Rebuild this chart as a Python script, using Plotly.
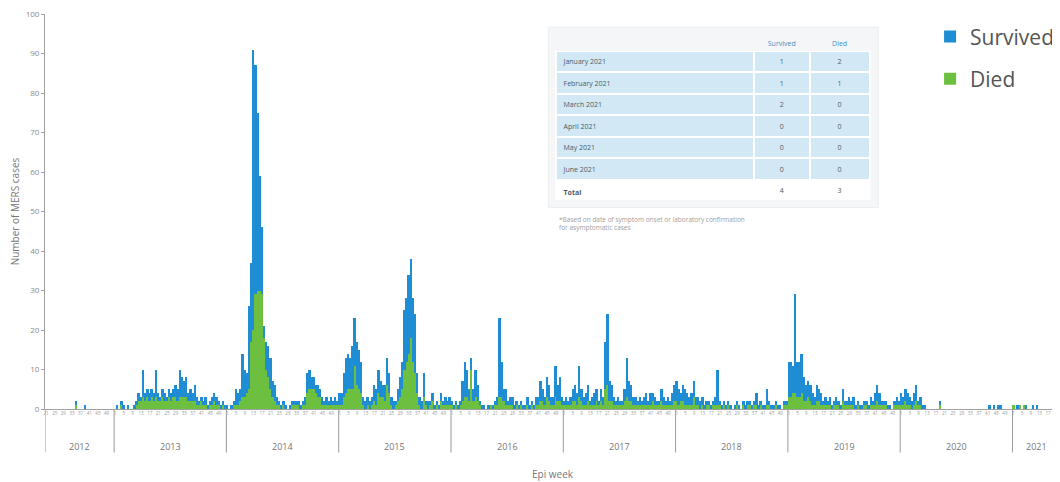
import plotly.graph_objects as go

# ---------------- data ----------------
years = ["2012", "2013", "2014", "2015", "2016", "2017", "2018", "2019", "2020", "2021"]
first_week = [21, 1, 1, 1, 1, 1, 1, 1, 1, 1]
last_week = [52, 52, 52, 52, 52, 52, 52, 52, 52, 22]

survived_2012 = [0,0,0,0,0,0,0,0,0,0, 0,0,0,0,1,0,0,0,1,0, 0,0,0,0,0,0,0,0,0,0, 0,0]
died_2012     = [0,0,0,0,0,0,0,0,0,0, 0,0,0,0,1,0,0,0,0,0, 0,0,0,0,0,0,0,0,0,0, 0,0]

survived_2013 = [0,1,0,1,1,0,1,0,0,1, 1,2,1,7,2,2,2,2,2,7, 2,1,2,2,1,2,2,2,3,3,
                 7,5,4,5,2,3,2,4,2,1, 1,1,2,1,1,2,2,2,1,1, 1,1]
died_2013     = [0,0,0,1,0,0,0,0,0,0, 1,2,2,3,2,3,2,3,2,3, 2,2,3,2,2,3,2,3,3,2,
                 3,3,3,3,2,2,2,2,1,1, 2,1,1,0,1,1,2,1,1,0, 1,0]

survived_2014 = [1,0,1,1,4,3,3,11,7,5, 21,20,71,58,45,29,17,3,7,8, 8,4,4,2,1,1,1,1,0,1,
                 1,1,1,1,1,1,2,5,5,3, 3,2,3,2,2,1,2,1,2,1, 2,1]
died_2014     = [0,0,0,1,1,1,2,3,3,4, 5,17,20,29,30,30,29,18,10,8, 5,3,2,1,1,0,1,0,0,0,
                 1,1,1,1,0,1,1,4,5,5, 5,4,3,3,1,1,1,1,1,1, 1,1]

survived_2015 = [3,3,6,9,9,8,11,12,11,10, 8,2,2,2,2,2,4,4,6,4, 3,4,7,5,2,2,1,3,5,7,
                 15,16,20,20,16,15,5,2,2,6, 1,2,1,2,1,1,1,2,1,2, 1,2]
died_2015     = [1,1,3,4,5,5,5,11,6,5, 4,1,0,1,0,1,2,1,4,3, 3,2,6,4,1,0,1,2,3,5,
                 10,12,14,18,12,9,4,1,0,3, 1,0,1,2,0,1,0,2,1,1, 1,1]

survived_2016 = [1,1,1,1,1,5,9,7,3,3, 3,7,4,1,1,1,0,1,0,1, 1,2,20,9,3,4,1,2,2,1,
                 1,1,1,1,1,2,1,1,1,2, 2,5,3,2,5,4,2,2,8,4, 6,2]
died_2016     = [1,0,1,0,1,2,3,3,2,10, 2,3,2,1,0,0,0,0,1,0, 1,1,3,3,2,1,1,1,1,0,
                 1,0,1,0,0,1,0,1,0,1, 1,2,2,1,3,2,1,1,3,2, 2,1]

survived_2017 = [1,2,1,2,3,4,3,8,3,2, 3,4,1,2,3,3,1,3,2,12, 18,5,4,2,1,2,1,1,3,10,
                 5,4,2,2,1,2,1,2,3,1, 3,2,2,1,1,3,2,1,2,1, 3,4]
died_2017     = [1,1,1,1,2,2,1,3,2,1, 1,2,1,1,1,2,1,2,1,5, 6,2,2,1,1,1,1,1,2,3,
                 2,2,1,1,1,1,1,1,1,1, 1,2,1,1,1,2,1,1,1,1, 1,2]

survived_2018 = [5,4,2,4,4,3,2,3,4,2, 2,2,2,1,1,1,1,1,2,9, 1,1,1,1,1,1,0,1,1,1,
                 0,1,1,1,1,1,1,3,1,1, 1,1,4,1,1,1,1,1,1,0, 1,1]
died_2018     = [2,1,2,2,1,1,1,1,3,1, 1,0,1,0,1,1,0,1,1,1, 1,0,1,0,1,0,0,0,1,0,
                 0,1,0,1,1,0,1,1,0,1, 0,0,1,1,0,0,1,0,0,0, 1,1]

survived_2019 = [9,9,7,25,9,9,10,6,4,4, 4,3,2,4,3,3,1,2,1,2, 1,1,2,1,1,3,1,1,2,1,
                 2,1,1,1,1,1,1,1,2,1, 3,4,3,1,1,1,1,1,0,1, 2,1]
died_2019     = [3,3,4,4,3,3,4,2,2,3, 2,1,1,2,2,1,1,1,1,1, 0,1,1,1,0,2,1,1,1,1,
                 1,0,1,0,0,1,1,0,1,1, 1,2,1,1,1,1,0,0,0,1, 1,1]

survived_2020 = [3,2,3,3,2,2,3,4,1,2, 1,1,0,0,0,0,0,0,1,0, 0,0,0,0,0,0,0,0,0,0,
                 0,0,0,0,0,0,0,0,0,0, 0,1,0,1,0,1,1,0,0,0, 0,0]
died_2020     = [1,1,2,1,1,0,1,2,1,1, 0,0,0,0,0,0,0,0,1,0, 0,0,0,0,0,0,0,0,0,0,
                 0,0,0,0,0,0,0,0,0,0, 0,0,0,0,0,0,0,0,0,0, 0,0]

survived_2021 = [0,0,1,0,0,0,1,0,0,1, 0,1,0,0,0,0,0,0,0,0, 0,0]
died_2021     = [1,0,0,1,0,1,0,0,0,0, 0,0,0,0,0,0,0,0,0,0, 0,0]

survived_by_year = [survived_2012, survived_2013, survived_2014, survived_2015, survived_2016,
                    survived_2017, survived_2018, survived_2019, survived_2020, survived_2021]
died_by_year = [died_2012, died_2013, died_2014, died_2015, died_2016,
                died_2017, died_2018, died_2019, died_2020, died_2021]

table_months = ["January 2021", "February 2021", "March 2021", "April 2021", "May 2021", "June 2021"]
table_survived = [1, 1, 2, 0, 0, 0]
table_died = [2, 1, 0, 0, 0, 0]
table_total_survived = 4
table_total_died = 3

# ---------------- build sequence ----------------
x_idx, week_num, surv, died = [], [], [], []
year_start, year_end = [], []
i = 0
for yr, fw, lw, s_list, d_list in zip(years, first_week, last_week, survived_by_year, died_by_year):
    year_start.append(i)
    for k, w in enumerate(range(fw, lw + 1)):
        x_idx.append(i)
        week_num.append(w)
        surv.append(s_list[k])
        died.append(d_list[k])
        i += 1
    year_end.append(i - 1)

tickvals = [xi for xi, w in zip(x_idx, week_num) if (w - 1) % 4 == 0]
ticktext = [str(w) for w in week_num if (w - 1) % 4 == 0]

BLUE = "#1f8dd4"
GREEN = "#6cbf3f"
GRAY = "#8a8a8a"
FONT = "Open Sans, sans-serif"

fig = go.Figure()
fig.add_trace(go.Bar(x=x_idx, y=died, name="Died", marker=dict(color=GREEN, line=dict(width=0)),
                     legendgroup="d", legendrank=2))
fig.add_trace(go.Bar(x=x_idx, y=surv, name="Survived", marker=dict(color=BLUE, line=dict(width=0)),
                     legendgroup="s", legendrank=1))

# table
fig.add_trace(go.Table(
    domain=dict(x=[0.503, 0.813], y=[0.527, 0.952]),
    columnwidth=[192, 54, 58],
    header=dict(values=["", "Survived", "Died"],
                fill_color="#f4f6f8", line=dict(color="#f4f6f8", width=0),
                font=dict(family=FONT, size=7, color="#3f8fc6"), align=["left", "center", "center"],
                height=18),
    cells=dict(values=[table_months + ["<b>Total</b>"],
                       table_survived + [table_total_survived],
                       table_died + [table_total_died]],
               fill_color=[["#d2e9f5"] * 6 + ["#ffffff"]] * 3,
               line=dict(color="#ffffff", width=2),
               font=dict(family=FONT, size=7, color="#4b5a68"),
               align=["left", "center", "center"], height=21.5),
))

shapes = []
# table panel
shapes.append(dict(type="rect", xref="paper", yref="paper", x0=0.496, x1=0.821, y0=0.51, y1=0.967,
                   fillcolor="#f4f6f8", line=dict(color="#eceef0", width=1), layer="below"))
# year dividers
for s in year_start + [year_end[-1] + 1]:
    shapes.append(dict(type="line", xref="x", yref="paper", x0=s - 0.5, x1=s - 0.5, y0=0, y1=-0.11,
                       line=dict(color="#9a9a9a", width=1)))

annotations = []
for yr, s, e in zip(years, year_start, year_end):
    annotations.append(dict(x=(s + e) / 2, y=-0.094, xref="x", yref="paper", text=yr, showarrow=False,
                            font=dict(family=FONT, size=9, color="#777777"), yanchor="middle"))
annotations.append(dict(x=0.5, y=-0.165, xref="paper", yref="paper", text="Epi week", showarrow=False,
                        font=dict(family=FONT, size=10, color="#777777"), yanchor="middle"))
annotations.append(dict(x=0.504, y=0.497, xref="paper", yref="paper", xanchor="left", yanchor="top",
                        align="left", showarrow=False,
                        text="*Based on date of symptom onset or laboratory confirmation<br>for asymptomatic cases",
                        font=dict(family=FONT, size=6.5, color="#a0a0a0")))

# the page body adds an 8px margin, so the figure is 8px smaller than the window
fig.update_layout(
    width=1052, height=474,
    margin=dict(l=37, r=0, t=6, b=73),
    paper_bgcolor="white", plot_bgcolor="white",
    barmode="stack", bargap=0.12,
    font=dict(family=FONT, color=GRAY),
    showlegend=True,
    legend=dict(x=0.872, y=0.994, xanchor="left", yanchor="top", traceorder="grouped",
                tracegroupgap=12, font=dict(family=FONT, size=21, color="#555555"),
                bgcolor="rgba(0,0,0,0)"),
    xaxis=dict(range=[-0.5, len(x_idx) - 0.5], tickmode="array", tickvals=tickvals, ticktext=ticktext,
               tickangle=0, tickfont=dict(size=4.5, color="#9a9a9a"), ticks="", showgrid=False,
               zeroline=False, showline=True, linecolor="#a0a0a0", linewidth=1),
    yaxis=dict(range=[0, 100], tickmode="array", tickvals=[0, 10, 20, 30, 40, 50, 60, 70, 80, 90, 100],
               showgrid=False, zeroline=False, showline=True, ticklabeloverflow="allow",
               linecolor="#a0a0a0", linewidth=1, ticks="outside", ticklen=3, tickcolor="#a0a0a0",
               tickfont=dict(size=8, color="#8a8a8a"),
               title=dict(text="Number of MERS cases", font=dict(size=10, color="#777777"), standoff=6)),
    shapes=shapes, annotations=annotations,
)

fig.write_html("out.html")
